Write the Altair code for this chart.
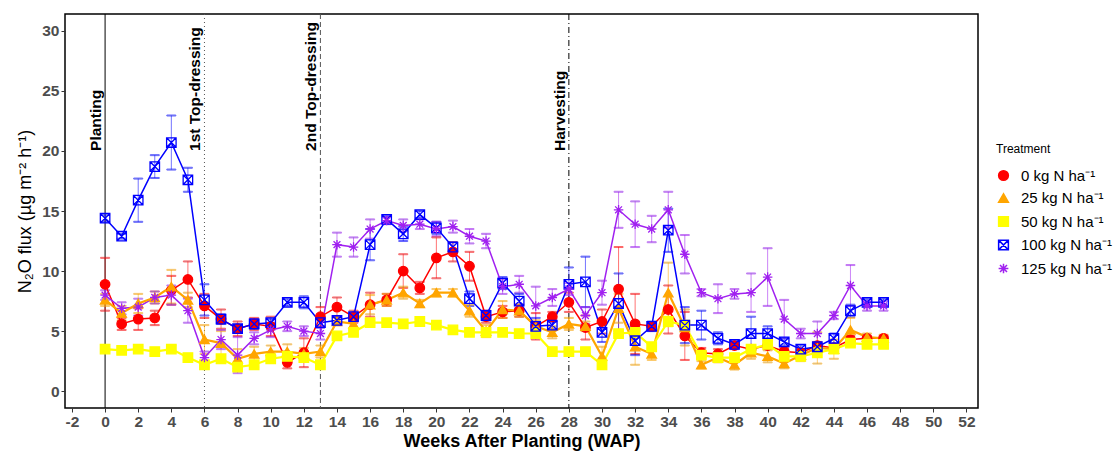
import altair as alt
import pandas as pd

weeks = list(range(0, 48))

treatments = ["0 kg N ha⁻¹", "25 kg N ha⁻¹", "50 kg N ha⁻¹", "100 kg N ha⁻¹", "125 kg N ha⁻¹"]

n0 = [8.9, 5.6, 6.0, 6.1, 8.4, 9.3, 7.1, 6.0, 5.2, 5.6, 5.4, 2.4, 3.2, 6.2, 7.0, 6.2,
      7.2, 7.6, 10.0, 8.6, 11.1, 11.6, 10.4, 6.2, 6.6, 6.7, 5.4, 6.2, 7.4, 5.3, 5.8, 8.5,
      5.6, 5.4, 6.8, 4.6, 3.2, 3.1, 3.8, 3.5, 3.8, 3.3, 3.2, 3.8, 3.6, 4.3, 4.4, 4.4]
n0_err = [2.2, 0.5, 0.9, 0.6, 1.2, 1.5, 1.0, 0.8, 0.6, 0.5, 0.8, 0.5, 1.2, 0.8, 0.8, 0.5,
          1.0, 0.5, 1.4, 0.5, 1.7, 0.8, 1.2, 0.5, 0.5, 0.5, 1.1, 0.4, 0.8, 1.0, 1.0, 3.5,
          2.5, 0.3, 2.0, 2.0, 0.4, 0.4, 0.3, 0.3, 0.3, 0.3, 0.3, 0.3, 0.3, 0.3, 0.2, 0.2]

n25 = [7.6, 6.5, 7.3, 7.8, 8.7, 7.6, 4.3, 4.0, 2.7, 3.1, 3.3, 3.3, 3.1, 3.3, 5.8, 5.6,
       7.2, 7.6, 8.2, 7.3, 8.2, 8.2, 6.7, 5.0, 6.8, 6.7, 5.4, 4.9, 5.6, 5.4, 2.9, 6.9,
       3.7, 3.1, 8.2, 5.3, 2.2, 2.8, 2.2, 3.2, 2.9, 2.3, 3.0, 3.6, 3.5, 5.1, 4.5, 4.4]
n25_err = [0.5, 0.6, 0.8, 0.5, 1.4, 0.6, 1.2, 1.0, 0.8, 0.6, 0.5, 0.6, 0.5, 0.5, 0.3, 0.5,
           0.8, 0.5, 0.5, 0.3, 0.3, 0.3, 0.5, 0.5, 0.7, 0.5, 0.5, 0.5, 0.5, 0.4, 0.8, 1.2,
           1.5, 0.5, 2.5, 1.5, 0.3, 0.4, 0.4, 0.5, 0.5, 0.4, 0.5, 1.3, 0.8, 1.0, 0.3, 0.3]

n50 = [3.5, 3.4, 3.5, 3.3, 3.5, 2.8, 2.2, 2.7, 2.0, 2.2, 2.7, 2.9, 2.8, 2.2, 4.6, 4.9,
       5.7, 5.7, 5.6, 5.8, 5.5, 5.1, 4.9, 4.9, 4.9, 4.8, 4.8, 3.3, 3.3, 3.3, 2.2, 4.8,
       4.9, 3.7, 5.8, 5.5, 3.0, 2.8, 2.8, 3.5, 3.9, 2.9, 2.9, 3.2, 3.5, 4.0, 3.9, 3.9]
n50_err = [0.2, 0.2, 0.2, 0.2, 0.3, 0.2, 0.2, 0.2, 0.3, 0.2, 0.2, 0.2, 0.2, 0.2, 0.2, 0.2,
           0.2, 0.2, 0.2, 0.2, 0.2, 0.2, 0.2, 0.2, 0.2, 0.2, 0.2, 0.2, 0.2, 0.2, 0.3, 0.2,
           0.2, 0.2, 0.4, 0.2, 0.3, 0.2, 0.2, 0.2, 0.2, 0.2, 0.2, 0.2, 0.2, 0.2, 0.2, 0.2]

n100 = [14.4, 12.9, 15.9, 18.7, 20.7, 17.6, 7.6, 6.0, 5.2, 5.6, 5.7, 7.4, 7.4, 5.7, 5.9, 6.2,
        12.2, 14.3, 13.1, 14.7, 13.6, 12.0, 7.7, 6.3, 9.0, 7.5, 5.4, 5.5, 8.9, 9.1, 4.9, 7.3,
        4.2, 5.4, 13.4, 5.5, 5.5, 4.4, 3.9, 4.8, 4.8, 4.1, 3.5, 3.7, 4.4, 6.7, 7.4, 7.4]
n100_err = [0.3, 0.2, 1.8, 0.95, 2.25, 1.0, 1.3, 0.4, 0.3, 0.4, 0.3, 0.3, 0.5, 0.4, 0.3, 0.3,
            1.3, 0.3, 0.6, 0.3, 0.5, 0.4, 0.6, 0.4, 0.5, 0.6, 0.7, 0.3, 1.4, 2.1, 0.8, 2.5,
            1.2, 0.4, 1.8, 1.5, 1.2, 0.5, 0.3, 1.4, 0.6, 0.3, 0.3, 0.3, 0.4, 0.5, 0.3, 0.3]

n125 = [8.0, 6.9, 7.0, 7.8, 8.0, 6.7, 2.8, 4.3, 3.0, 4.4, 5.1, 5.4, 5.0, 4.8, 12.2, 12.0,
        13.5, 14.2, 13.8, 13.9, 13.5, 13.7, 12.9, 12.5, 8.7, 8.9, 7.1, 7.8, 8.5, 6.3, 8.2, 15.1,
        13.9, 13.5, 15.1, 11.4, 8.2, 7.7, 8.1, 8.2, 9.5, 6.0, 4.8, 4.8, 6.3, 8.8, 7.1, 7.1]
n125_err = [0.4, 0.5, 0.7, 0.5, 0.8, 1.0, 0.5, 0.8, 1.5, 0.5, 0.6, 0.4, 0.4, 0.5, 1.0, 0.8,
            0.8, 0.3, 0.5, 0.4, 0.6, 0.5, 0.6, 0.6, 0.6, 0.7, 1.6, 0.7, 0.5, 0.7, 1.0, 1.5,
            1.9, 1.1, 1.5, 1.6, 0.3, 1.2, 0.4, 1.6, 2.4, 1.6, 0.4, 1.0, 0.3, 1.7, 0.4, 0.4]

event_weeks = [0, 6, 13, 28]
event_labels = ["Planting", "1st Top-dressing", "2nd Top-dressing", "Harvesting"]

x_ticks = list(range(-2, 53, 2))
y_ticks = [0, 5, 10, 15, 20, 25, 30]

colors = ["#FF0000", "#FFA500", "#FFFF00", "#0000FF", "#A020F0"]
fills = ["#FF0000", "#FFA500", "#FFFF00", "transparent", "transparent"]
shapes = [
    "circle",
    "triangle-up",
    "square",
    "M-1,-1L1,-1L1,1L-1,1Z M-1,-1L1,1 M1,-1L-1,1",
    "M-1,0L1,0 M0,-1L0,1 M-0.72,-0.72L0.72,0.72 M-0.72,0.72L0.72,-0.72",
]
thick_lines = ["25 kg N ha⁻¹", "50 kg N ha⁻¹"]

series = [n0, n25, n50, n100, n125]
errs = [n0_err, n25_err, n50_err, n100_err, n125_err]
rows = []
for i, (t, vals, ee) in enumerate(zip(treatments, series, errs)):
    for w, v, e in zip(weeks, vals, ee):
        rows.append({"week": w, "flux": v, "lo": v - e, "hi": v + e, "Treatment": t,
                     "ord": i, "thick": t in thick_lines})
df = pd.DataFrame(rows)

events = pd.DataFrame({"week": event_weeks, "label": event_labels})

FONT = "Liberation Sans"

xscale = alt.Scale(domain=[-2.42, 52.7], nice=False, zero=False)
yscale = alt.Scale(domain=[-1.4, 31.4], nice=False, zero=False)
stroke_scale = alt.Scale(domain=treatments, range=colors)
fill_scale = alt.Scale(domain=treatments, range=fills)
shape_scale = alt.Scale(domain=treatments, range=shapes)

xaxis = alt.Axis(values=x_ticks, title="Weeks After Planting (WAP)", grid=False,
                 labelOverlap=False, labelExpr="replace(datum.label, '−', '-')")
yaxis = alt.Axis(values=y_ticks, title="N₂O flux (µg m⁻² h⁻¹)", grid=False,
                 labelOverlap=False)

legend = alt.Legend(title="Treatment", orient="none", legendX=931, legendY=130)

base = alt.Chart(df)

stroke_enc = alt.Stroke("Treatment:N", scale=stroke_scale, sort=treatments, legend=legend)

err_rule = base.mark_rule(strokeWidth=1, opacity=0.55).encode(
    x=alt.X("week:Q", scale=xscale, axis=xaxis),
    y=alt.Y("lo:Q", scale=yscale, axis=yaxis),
    y2="hi:Q",
    stroke=stroke_enc,
)
cap_lo = base.mark_tick(orient="horizontal", size=9, thickness=1, opacity=0.6).encode(
    x=alt.X("week:Q", scale=xscale, axis=xaxis), y="lo:Q", stroke=stroke_enc,
)
cap_hi = base.mark_tick(orient="horizontal", size=9, thickness=1, opacity=0.6).encode(
    x=alt.X("week:Q", scale=xscale, axis=xaxis), y="hi:Q", stroke=stroke_enc,
)
lines_thin = base.mark_line(strokeWidth=1.5).encode(
    x=alt.X("week:Q", scale=xscale, axis=xaxis), y="flux:Q", stroke=stroke_enc, detail="Treatment:N",
).transform_filter("!datum.thick")
lines_thick = base.mark_line(strokeWidth=2.2).encode(
    x=alt.X("week:Q", scale=xscale, axis=xaxis), y="flux:Q", stroke=stroke_enc, detail="Treatment:N",
).transform_filter("datum.thick")
points = base.mark_point(size=90, strokeWidth=1.3, opacity=1).encode(
    x=alt.X("week:Q", scale=xscale, axis=xaxis),
    y="flux:Q",
    stroke=stroke_enc,
    fill=alt.Fill("Treatment:N", scale=fill_scale, sort=treatments, legend=legend),
    shape=alt.Shape("Treatment:N", scale=shape_scale, sort=treatments, legend=legend),
    order=alt.Order("ord:Q"),
)

dash_range = [[1, 0], [1, 3], [5, 3], [6, 3, 1, 3]]
rule_colors = ["#000000", "#555555", "#555555", "#000000"]
vlines = alt.Chart(events).mark_rule(strokeWidth=1).encode(
    x=alt.X("week:Q", scale=xscale, axis=xaxis),
    strokeDash=alt.StrokeDash("label:N", scale=alt.Scale(domain=event_labels, range=dash_range), legend=None),
    color=alt.Color("label:N", scale=alt.Scale(domain=event_labels, range=rule_colors), legend=None),
)
vtext = alt.Chart(events).mark_text(
    angle=270, align="left", baseline="bottom", dy=-1, fontSize=15.5,
    fontWeight="bold", font=FONT, color="black",
).encode(
    x=alt.X("week:Q", scale=xscale, axis=xaxis),
    y=alt.Y(datum=20, scale=yscale, axis=yaxis),
    text="label:N",
)

chart = alt.layer(vlines, err_rule, cap_lo, cap_hi, lines_thin, lines_thick, points, vtext).properties(
    width=913, height=394,
    padding={"left": 65, "top": 14, "right": 137, "bottom": 44},
    autosize=alt.AutoSizeParams(type="none"),
).configure_view(
    stroke="black", strokeWidth=1.5
).configure_axis(
    domain=False, labelOverlap=False,
    ticks=True, tickColor="#333333", tickSize=4, tickWidth=1,
    labelFont=FONT, labelFontSize=15.5, labelFontWeight="bold", labelColor="#4D4D4D",
    labelPadding=2,
    titleFont=FONT, titleFontSize=18, titleColor="black",
).configure_axisX(
    titleFontWeight="bold", titlePadding=3,
).configure_axisY(
    titleFontWeight="normal", titlePadding=7,
).configure_legend(
    titleFont=FONT, titleFontSize=12, titleFontWeight="normal", titleColor="black",
    labelFont=FONT, labelFontSize=15, labelColor="black",
    symbolSize=95, symbolStrokeWidth=1.5, rowPadding=6.5, labelOffset=10,
    titlePadding=12, symbolOpacity=1,
)

chart.save("out.html", embed_options={"renderer": "svg", "actions": False})
